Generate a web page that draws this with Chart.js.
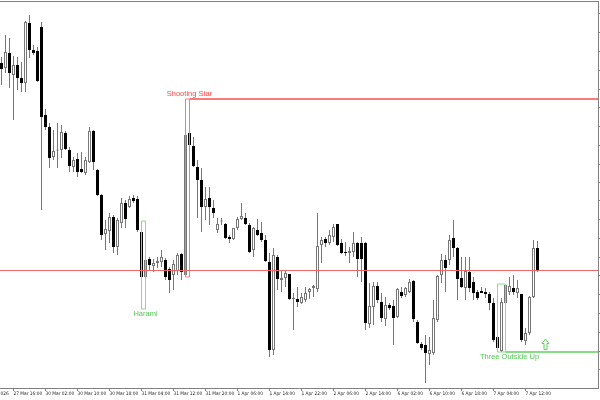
<!DOCTYPE html>
<html>
<head>
<meta charset="utf-8">
<title>H1 candles with patterns</title>
<script src="https://cdn.jsdelivr.net/npm/chart.js@4.4.1/dist/chart.umd.min.js"></script>
<style>
  html, body { margin: 0; padding: 0; background: #fff; }
  #wrap { width: 600px; height: 400px; }
</style>
</head>
<body>
<div id="wrap"><canvas id="chart"></canvas></div>
<script>
// H1 bars, oldest first
const opens = [
  1.0937, 1.0932, 1.0947, 1.0925, 1.0935, 1.0922, 1.0917, 1.0977, 1.0950, 1.0949,
  1.0973, 1.0885, 1.0873, 1.0843, 1.08495, 1.0850, 1.0867, 1.0850, 1.0833, 1.0841,
  1.0831, 1.0827, 1.0838, 1.0869, 1.0830, 1.0805, 1.0766, 1.0769, 1.0783, 1.0753,
  1.0777, 1.0797, 1.0793, 1.0802, 1.0801, 1.0768, 1.0723, 1.0741, 1.0734, 1.0737,
  1.0738, 1.0740, 1.0731, 1.0725, 1.0729, 1.0746, 1.0725, 1.0867, 1.0854, 1.0833,
  1.0820, 1.0793, 1.0802, 1.0792, 1.0770, 1.07785, 1.0776, 1.0763, 1.0761, 1.0772,
  1.0781, 1.0782, 1.0775, 1.0750, 1.0770, 1.0767, 1.0760, 1.0738, 1.0650, 1.0743,
  1.0720, 1.0722, 1.0726, 1.0701, 1.0701, 1.0697, 1.0700, 1.0708, 1.0712, 1.0711,
  1.0755, 1.0761, 1.0757, 1.0763, 1.0776, 1.0757, 1.0748, 1.0747, 1.0748, 1.0757,
  1.0757, 1.0757, 1.0676, 1.0693, 1.0714, 1.0698, 1.0681, 1.0695, 1.0694, 1.0683,
  1.0708, 1.0705, 1.0708, 1.0719, 1.0678, 1.0656, 1.0655, 1.0646, 1.0647, 1.0680,
  1.0725, 1.0740, 1.0740, 1.0762, 1.0752, 1.0722, 1.0712, 1.0728, 1.0718, 1.0708,
  1.0709, 1.0708, 1.0706, 1.0697, 1.0663, 1.0649, 1.0697, 1.0708, 1.0712, 1.0707,
  1.0706, 1.0659, 1.0667, 1.0703, 1.0752
];
const highs = [
  1.0943, 1.0965, 1.0962, 1.0944, 1.0943, 1.0938, 1.0979, 1.0985, 1.0955, 1.0953,
  1.0978, 1.0891, 1.0877, 1.0870, 1.0877, 1.0875, 1.0869, 1.0853, 1.0843, 1.0847,
  1.0848, 1.0843, 1.0873, 1.0870, 1.0831, 1.0806, 1.0780, 1.0787, 1.0785, 1.0782,
  1.0802, 1.0800, 1.0804, 1.0805, 1.0804, 1.0779, 1.0750, 1.0743, 1.0741, 1.0743,
  1.0750, 1.0742, 1.0733, 1.0740, 1.0747, 1.0747, 1.0880, 1.0901, 1.0863, 1.0840,
  1.0832, 1.0813, 1.0813, 1.0800, 1.0782, 1.0782, 1.0777, 1.0765, 1.0772, 1.0783,
  1.0797, 1.0787, 1.0777, 1.0773, 1.0781, 1.0778, 1.0765, 1.0747, 1.0752, 1.0745,
  1.0730, 1.0730, 1.0726, 1.0707, 1.0713, 1.0707, 1.0713, 1.0712, 1.0715, 1.0787,
  1.0763, 1.0763, 1.0770, 1.0776, 1.0776, 1.0761, 1.0758, 1.0753, 1.0768, 1.0758,
  1.0763, 1.0758, 1.0717, 1.0718, 1.0718, 1.0707, 1.0703, 1.0697, 1.0700, 1.0712,
  1.0713, 1.0713, 1.0721, 1.0720, 1.0680, 1.0658, 1.0665, 1.0663, 1.0700, 1.0725,
  1.0746, 1.0745, 1.0765, 1.0780, 1.0753, 1.0743, 1.0743, 1.0743, 1.0723, 1.0710,
  1.0713, 1.0712, 1.0708, 1.0702, 1.0665, 1.0702, 1.0716, 1.0723, 1.0725, 1.0720,
  1.0706, 1.0672, 1.0704, 1.0760, 1.0759
];
const lows = [
  1.0915, 1.0927, 1.0912, 1.0880, 1.0910, 1.0908, 1.0908, 1.0942, 1.0945, 1.0918,
  1.0790, 1.0870, 1.0832, 1.0840, 1.0832, 1.0842, 1.0850, 1.0828, 1.0828, 1.0823,
  1.0827, 1.0825, 1.0837, 1.0830, 1.0804, 1.0760, 1.0750, 1.0757, 1.0747, 1.0745,
  1.0772, 1.0772, 1.0792, 1.0797, 1.0768, 1.0720, 1.0691, 1.0730, 1.0728, 1.0732,
  1.0733, 1.0720, 1.0707, 1.0710, 1.0725, 1.0720, 1.0723, 1.0850, 1.0833, 1.0782,
  1.0768, 1.0780, 1.0775, 1.0782, 1.0767, 1.0775, 1.0761, 1.0757, 1.0760, 1.0770,
  1.0780, 1.0775, 1.0747, 1.0743, 1.0764, 1.0758, 1.0738, 1.0643, 1.0645, 1.0710,
  1.0708, 1.0713, 1.0700, 1.0670, 1.0693, 1.0696, 1.0698, 1.0701, 1.0703, 1.0708,
  1.0737, 1.0753, 1.0755, 1.0758, 1.0754, 1.0746, 1.0744, 1.0737, 1.0743, 1.0723,
  1.0718, 1.0670, 1.0672, 1.0675, 1.0697, 1.0678, 1.0674, 1.0690, 1.0655, 1.0682,
  1.0702, 1.0703, 1.0707, 1.0678, 1.0656, 1.0650, 1.0617, 1.0635, 1.0645, 1.0678,
  1.0717, 1.0708, 1.0735, 1.0743, 1.0700, 1.0712, 1.0700, 1.0708, 1.0700, 1.0700,
  1.0707, 1.0702, 1.0690, 1.0658, 1.0650, 1.0648, 1.0696, 1.0705, 1.0705, 1.0702,
  1.0658, 1.0655, 1.0665, 1.0702, 1.0728
];
const closes = [
  1.0931, 1.0948, 1.0927, 1.0935, 1.0922, 1.0917, 1.0978, 1.0950, 1.0947, 1.0919,
  1.0883, 1.0873, 1.0842, 1.0849, 1.0850, 1.0868, 1.0851, 1.0834, 1.0840, 1.0828,
  1.0828, 1.0840, 1.0869, 1.0838, 1.0805, 1.0765, 1.0771, 1.0783, 1.0753, 1.0780,
  1.0797, 1.0781, 1.0801, 1.0799, 1.0770, 1.0723, 1.0740, 1.0735, 1.0737, 1.0739,
  1.0743, 1.0723, 1.0720, 1.0736, 1.0745, 1.0728, 1.0865, 1.0855, 1.0834, 1.0820,
  1.0793, 1.0801, 1.0793, 1.0787, 1.0776, 1.0779, 1.0762, 1.0761, 1.0772, 1.0781,
  1.0784, 1.0776, 1.0748, 1.0772, 1.0765, 1.0760, 1.0739, 1.0650, 1.0745, 1.0721,
  1.0722, 1.0727, 1.0701, 1.0702, 1.0698, 1.0703, 1.0707, 1.0711, 1.0714, 1.0754,
  1.0760, 1.0757, 1.0765, 1.0773, 1.0755, 1.0747, 1.0747, 1.0749, 1.0757, 1.0741,
  1.0741, 1.0677, 1.0694, 1.0714, 1.0700, 1.0682, 1.0695, 1.0692, 1.0682, 1.0711,
  1.0704, 1.0712, 1.0718, 1.0681, 1.0657, 1.0652, 1.0647, 1.0650, 1.0682, 1.0724,
  1.0740, 1.0732, 1.0760, 1.0752, 1.0721, 1.0713, 1.0729, 1.0712, 1.0707, 1.0702,
  1.0707, 1.0706, 1.0697, 1.0660, 1.0652, 1.0698, 1.0715, 1.0714, 1.0708, 1.0712,
  1.0660, 1.0667, 1.0703, 1.0752, 1.0730
];

// time axis: a label every 8 bars, the first one starts left of the window
const timeLabels = [
  '27 Mar 2026', '27 Mar 16:00', '30 Mar 02:00', '30 Mar 10:00', '30 Mar 18:00',
  '31 Mar 04:00', '31 Mar 12:00', '31 Mar 20:00', '1 Apr 06:00', '1 Apr 14:00',
  '1 Apr 22:00', '2 Apr 06:00', '2 Apr 14:00', '6 Apr 02:00', '6 Apr 10:00',
  '6 Apr 18:00', '7 Apr 04:00', '7 Apr 12:00'
];
const firstLabelBar = -5;
const labelEvery = 8;

// tick marks of the (cut off) price scale
const priceTicks = [
  1.0987, 1.0968, 1.0949, 1.0930, 1.0911, 1.0893, 1.0874, 1.0855, 1.0836, 1.0817,
  1.0799, 1.0780, 1.0761, 1.0742, 1.0724, 1.0705, 1.0686, 1.0667, 1.0648, 1.0630
];

// horizontal level line
const levelPrice = 1.07295;

// candle patterns found by the indicator
const patternNames = ['Harami', 'Shooting Star', 'Three Outside Up'];
const patternStart = [35, 46, 124];
const patternEnd = [36, 47, 126];
const patternBull = [true, false, true];
const patternLine = ['none', 'top', 'bottom'];
const patternLabelBar = [36, 47, 127];

// buy arrow after the last pattern
const signalBar = 136;
const signalPrice = 1.0656;

// Colors
const frameColor = '#808080';
const wickColor = '#777777';
const bullColor = '#84de84';
const bearColor = '#ff7878';
const levelColor = '#ee6666';

const xMin = -0.375;
const xMax = 149.125;

const barIdx = opens.map((o, i) => i);

function patternBox(p) {
  const s = patternStart[p];
  const e = patternEnd[p];
  return {
    top: Math.max(...highs.slice(s, e + 1)),
    bottom: Math.min(...lows.slice(s, e + 1))
  };
}

// Build datasets
const datasets = [];

datasets.push({
  type: 'bar',
  label: 'bodies',
  data: barIdx.map(i => ({ x: i, y: [opens[i], closes[i]] })),
  backgroundColor: barIdx.map(i => closes[i] >= opens[i] ? '#ffffff' : '#000000'),
  borderColor: barIdx.map(i => closes[i] >= opens[i] ? wickColor : '#000000'),
  borderWidth: 1,
  borderSkipped: false,
  minBarLength: 1,
  barThickness: 3,
  maxBarThickness: 3,
  inflateAmount: 0,
  grouped: false,
  order: 1
});

datasets.push({
  type: 'bar',
  label: 'wicks',
  data: barIdx.map(i => ({ x: i, y: [lows[i], highs[i]] })),
  backgroundColor: wickColor,
  borderWidth: 0,
  barThickness: 1,
  maxBarThickness: 1,
  inflateAmount: 0,
  grouped: false,
  order: 2
});

datasets.push({
  type: 'line',
  label: 'level',
  data: [{ x: xMin, y: levelPrice }, { x: xMax, y: levelPrice }],
  borderColor: levelColor,
  borderWidth: 1,
  pointRadius: 0,
  order: 0
});

patternNames.forEach((name, p) => {
  const box = patternBox(p);
  const s = patternStart[p];
  const e = patternEnd[p];
  const color = patternBull[p] ? bullColor : bearColor;
  datasets.push({
    type: 'line',
    label: name,
    data: [
      { x: s, y: box.top }, { x: e, y: box.top }, { x: e, y: box.bottom },
      { x: s, y: box.bottom }, { x: s, y: box.top }
    ],
    borderColor: color,
    borderWidth: 1,
    pointRadius: 0,
    order: 0
  });
  if (patternLine[p] !== 'none') {
    const price = patternLine[p] === 'top' ? box.top : box.bottom;
    datasets.push({
      type: 'line',
      label: name + ' line',
      data: [{ x: e, y: price }, { x: xMax + 1, y: price }],
      borderColor: color,
      borderWidth: 2,
      pointRadius: 0,
      order: 0
    });
  }
});

// Pattern names, arrow and top edge of the frame
const overlayPlugin = {
  id: 'overlay',
  afterDatasetsDraw(chart) {
    const { ctx, chartArea } = chart;
    const x = chart.scales.x;
    const y = chart.scales.y;
    ctx.save();

    ctx.strokeStyle = frameColor;
    ctx.lineWidth = 1;
    ctx.beginPath();
    ctx.moveTo(chartArea.left, chartArea.top + 0.5);
    ctx.lineTo(chartArea.right, chartArea.top + 0.5);
    ctx.stroke();

    ctx.font = '7.5px "Liberation Sans", Arial, sans-serif';
    ctx.textAlign = 'center';
    patternNames.forEach((name, p) => {
      const box = patternBox(p);
      const cx = x.getPixelForValue(patternLabelBar[p]);
      if (patternBull[p]) {
        ctx.fillStyle = '#55c855';
        ctx.textBaseline = 'top';
        ctx.fillText(name, cx, y.getPixelForValue(box.bottom) + 1);
      } else {
        ctx.fillStyle = '#ff4848';
        ctx.textBaseline = 'bottom';
        ctx.fillText(name, cx, y.getPixelForValue(box.top) - 1);
      }
    });

    // hollow up arrow
    const ax = x.getPixelForValue(signalBar);
    const ay = Math.round(y.getPixelForValue(signalPrice)) + 0.5;
    ctx.strokeStyle = '#5ccf5c';
    ctx.lineWidth = 1;
    ctx.beginPath();
    ctx.moveTo(ax, ay - 5.5);
    ctx.lineTo(ax + 3.5, ay - 1);
    ctx.lineTo(ax + 1.5, ay - 1);
    ctx.lineTo(ax + 1.5, ay + 5);
    ctx.lineTo(ax - 1.5, ay + 5);
    ctx.lineTo(ax - 1.5, ay - 1);
    ctx.lineTo(ax - 3.5, ay - 1);
    ctx.closePath();
    ctx.stroke();

    ctx.restore();
  }
};

new Chart(document.getElementById('chart'), {
  type: 'bar',
  data: { datasets },
  options: {
    responsive: true,
    maintainAspectRatio: false,
    animation: false,
    layout: { padding: { top: 1, left: 0, right: 0, bottom: 0 }, autoPadding: false },
    plugins: {
      legend: { display: false },
      tooltip: { enabled: false }
    },
    scales: {
      x: {
        type: 'linear',
        min: xMin,
        max: xMax,
        bounds: 'data',
        offset: false,
        grid: {
          display: true,
          offset: false,
          drawOnChartArea: false,
          drawTicks: true,
          tickLength: 3,
          color: frameColor
        },
        border: { display: true, color: frameColor },
        ticks: {
          autoSkip: false,
          maxRotation: 0,
          minRotation: 0,
          align: 'start',
          padding: 0,
          color: '#222222',
          font: { family: '"Liberation Sans Narrow", "DejaVu Sans Condensed", sans-serif', size: 4.8 },
          callback: (v, i) => timeLabels[i]
        },
        afterBuildTicks: axis => {
          axis.ticks = timeLabels.map((t, i) => ({ value: firstLabelBar + i * labelEvery }));
        },
        afterFit: axis => {
          axis.height = 12;
          axis.paddingLeft = 0;
          axis.paddingRight = 0;
        }
      },
      y: {
        position: 'right',
        min: 1.0612,
        max: 1.0999,
        grid: {
          drawOnChartArea: false,
          drawTicks: true,
          tickLength: 2,
          color: frameColor
        },
        border: { display: true, color: frameColor },
        ticks: { display: false },
        afterBuildTicks: axis => {
          axis.ticks = priceTicks.map(v => ({ value: v }));
        },
        afterFit: axis => {
          axis.width = 2;
          axis.paddingTop = 0;
          axis.paddingBottom = 0;
        }
      }
    }
  },
  plugins: [overlayPlugin]
});
</script>
</body>
</html>
